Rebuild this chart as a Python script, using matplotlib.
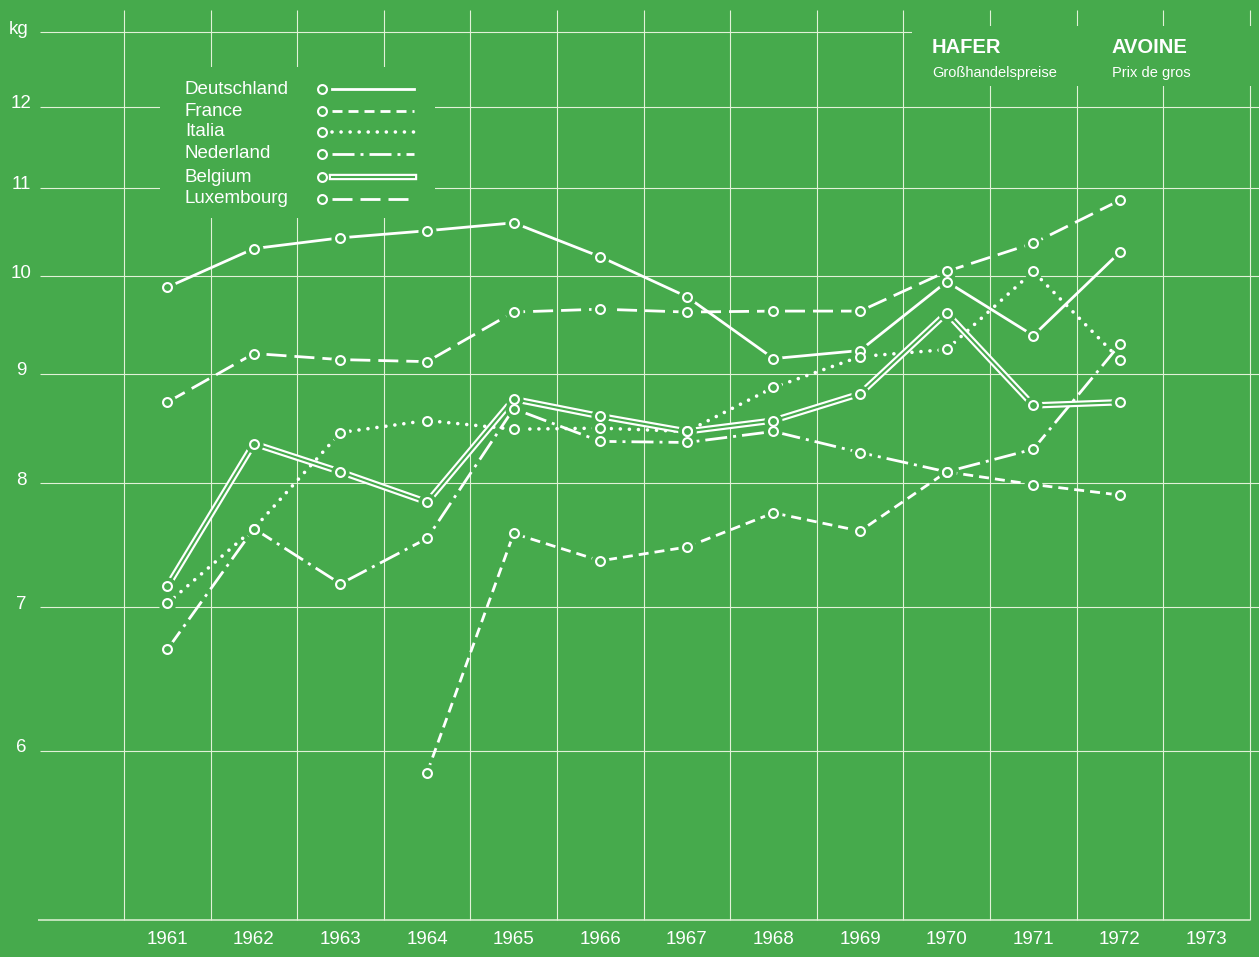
import numpy as np
import matplotlib
matplotlib.use("Agg")
import matplotlib.pyplot as plt
import matplotlib.transforms as mtransforms
from matplotlib.patches import Rectangle
from matplotlib.lines import Line2D

# Oat wholesale prices per country (log scale, kg axis)
years = list(range(1961, 1973))
deutschland = [9.88, 10.30, 10.42, 10.50, 10.59, 10.21, 9.78, 9.15, 9.23, 9.94, 9.38, 10.26]
france_years = list(range(1964, 1973))
france = [5.86, 7.58, 7.36, 7.47, 7.75, 7.60, 8.10, 7.99, 7.90]
italia = [7.03, 7.62, 8.45, 8.56, 8.48, 8.49, 8.46, 8.87, 9.17, 9.24, 10.05, 9.14]
nederland = [6.69, 7.62, 7.18, 7.54, 8.67, 8.37, 8.36, 8.46, 8.27, 8.10, 8.30, 9.29]
belgium = [7.16, 8.35, 8.10, 7.84, 8.76, 8.60, 8.46, 8.56, 8.81, 9.61, 8.70, 8.73]
luxembourg = [8.73, 9.20, 9.14, 9.12, 9.62, 9.65, 9.62, 9.63, 9.63, 10.05, 10.36, 10.85]

y_ticks = [6, 7, 8, 9, 10, 11, 12]
x_labels = list(range(1961, 1974))

W, H = 1259, 957
GREEN = "#46aa4c"
WHITE = "#ffffff"
GRID = "#e2f2d8"
FONT = "Liberation Sans"

# pixel <-> data mapping
X_PX0, X_STEP = 124, 86.6
Y_PX5, Y_SCALE = 920, 929.0

def px_x(p):
    return 1960.5 + (p - X_PX0) / X_STEP

def px_y(q):
    return 5 * np.exp((Y_PX5 - q) / Y_SCALE)

def dash(lw, *px):
    return tuple(p * 0.72 / lw for p in px)

fig = plt.figure(figsize=(W / 100, H / 100), dpi=100, facecolor=GREEN)
ax = fig.add_axes([0, 0, 1, 1])
ax.set_facecolor(GREEN)
ax.set_yscale("log")
ax.set_xlim(px_x(0), px_x(W))
ax.set_ylim(px_y(H), px_y(0))
ax.axis("off")

# grid
for v in y_ticks + [13]:
    ax.hlines(v, px_x(40), px_x(W), color=GRID, lw=0.8, zorder=1)
ax.hlines(5, px_x(38), px_x(1250), color=GRID, lw=1.1, zorder=1)
for k in range(14):
    ax.vlines(1960.5 + k, 5, px_y(10), color=GRID, lw=0.8, zorder=1)

# blank patches behind legend and title
ft = fig.transFigure
def px_rect(x0, y0, x1, y1):
    return Rectangle((x0 / W, 1 - y1 / H), (x1 - x0) / W, (y1 - y0) / H,
                     transform=ft, facecolor=GREEN, edgecolor="none", zorder=1.5)
ax.add_patch(px_rect(160, 67, 435, 218))
ax.add_patch(px_rect(912, 26, W, 86))

styles = {
    "Deutschland": dict(ls="-", lw=2.0),
    "France": dict(lw=2.0, dashes=dash(2.0, 10, 6)),
    "Italia": dict(lw=2.6, dashes=dash(2.6, 0.05, 9), dash_capstyle="round"),
    "Nederland": dict(lw=2.0, dashes=dash(2.0, 22, 6, 3, 6)),
    "Belgium": None,
    "Luxembourg": dict(lw=2.0, dashes=dash(2.0, 20, 8)),
}

series = [
    ("Deutschland", years, deutschland),
    ("France", france_years, france),
    ("Italia", years, italia),
    ("Nederland", years, nederland),
    ("Belgium", years, belgium),
    ("Luxembourg", years, luxembourg),
]

for name, xs, ys in series:
    if name == "Belgium":
        ax.plot(xs, ys, color=WHITE, lw=4.6, solid_joinstyle="miter", zorder=2)
        ax.plot(xs, ys, color=GREEN, lw=1.5, solid_joinstyle="miter", zorder=2.1)
    else:
        ax.plot(xs, ys, color=WHITE, zorder=2, **styles[name])
# green halo so lines stop short of the circles
for name, xs, ys in series:
    ax.plot(xs, ys, "o", ms=12, color=GREEN, mec=GREEN, zorder=5)
for name, xs, ys in series:
    ax.plot(xs, ys, "o", ms=6.4, mfc=GREEN, mec=WHITE, mew=1.5, zorder=6)

# axis labels
up = mtransforms.offset_copy(ax.transData, fig=fig, y=3, units="dots")
for v in y_ticks:
    ax.text(px_x(21), v, str(v), transform=up, ha="center", va="center",
            color=WHITE, fontsize=13.5, family=FONT)
ax.text(px_x(19), 13, "kg", transform=up, ha="center", va="center",
        color=WHITE, fontsize=13.5, family=FONT)
for yr in x_labels:
    ax.text(yr, px_y(940), str(yr), ha="center", va="center",
            color=WHITE, fontsize=13.5, family=FONT)

# legend (drawn by hand)
leg_y = [89, 111, 132, 154, 177, 199]
for (name, _, _), yy in zip(series, leg_y):
    fy = 1 - yy / H
    fig.text(185 / W, fy, name, ha="left", va="center", color=WHITE,
             fontsize=13.5, family=FONT)
    xs = [332 / W, 414 / W]
    if name == "Belgium":
        ax.add_line(Line2D(xs, [fy, fy], transform=ft, color=WHITE, lw=4.6, zorder=3))
        ax.add_line(Line2D(xs, [fy, fy], transform=ft, color=GREEN, lw=1.5, zorder=3.1))
    else:
        ax.add_line(Line2D(xs, [fy, fy], transform=ft, color=WHITE, zorder=3,
                           **styles[name]))
    ax.add_line(Line2D([322 / W], [fy], transform=ft, marker="o", ms=6.4,
                       mfc=GREEN, mec=WHITE, mew=1.5, ls="none", zorder=6))

# title block
fig.text(932 / W, 1 - 53 / H, "HAFER", ha="left", va="baseline", color=WHITE,
         fontsize=14.5, fontweight="bold", family=FONT)
fig.text(932 / W, 1 - 77 / H, "Großhandelspreise", ha="left", va="baseline",
         color=WHITE, fontsize=10.5, family=FONT)
fig.text(1112 / W, 1 - 53 / H, "AVOINE", ha="left", va="baseline", color=WHITE,
         fontsize=14.5, fontweight="bold", family=FONT)
fig.text(1112 / W, 1 - 77 / H, "Prix de gros", ha="left", va="baseline",
         color=WHITE, fontsize=10.5, family=FONT)

fig.savefig("out.png", dpi=100, facecolor=GREEN)
